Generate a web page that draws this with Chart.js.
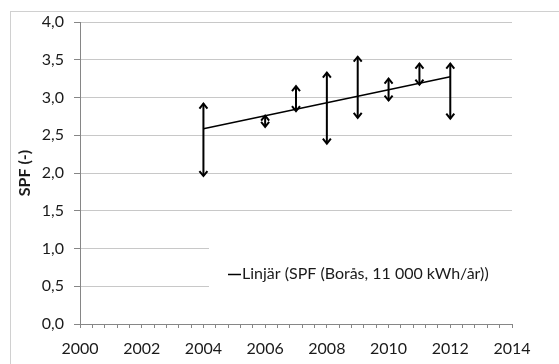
<!DOCTYPE html>
<html>
<head>
<meta charset="utf-8">
<script src="https://cdn.jsdelivr.net/npm/chart.js@4/dist/chart.umd.min.js"></script>
<style>
  html, body { margin: 0; padding: 0; background: #fff; }
  #wrap { width: 559px; height: 364px; }
</style>
</head>
<body>
<div id="wrap"><canvas id="c" width="559" height="364"></canvas></div>
<script>
// Measured SPF range per year (low / high end of each arrow)
const years = [2004, 2006, 2007, 2008, 2009, 2010, 2011, 2012];
const spfLow  = [1.96, 2.61, 2.82, 2.39, 2.73, 2.96, 3.17, 2.72];
const spfHigh = [2.92, 2.76, 3.15, 3.33, 3.54, 3.25, 3.45, 3.45];

// Linear trend line end points
const trendYears = [2004, 2012];
const trendValues = [2.587, 3.275];
const trendLabel = 'Linjär (SPF (Borås, 11 000 kWh/år))';

// Axis ticks
const xMin = 2000, xMax = 2014, xMinorStep = 0.4, xLabelStep = 2;
const yMin = 0, yMax = 4, yStep = 0.5;
const yTitle = 'SPF (-)';

const FONT = 'Lato, "Open Sans", sans-serif';
const TEXT = '#1a1a1a';
const AXIS = '#868686';
const GRID = '#c8c8c8';

// Arrow shafts: pairs of points separated by gaps
const arrowData = [];
years.forEach((yr, i) => {
  arrowData.push({ x: yr, y: spfLow[i] });
  arrowData.push({ x: yr, y: spfHigh[i] });
  arrowData.push({ x: yr, y: null });
});

const trendData = trendYears.map((yr, i) => ({ x: yr, y: trendValues[i] }));

// Outer frame of the chart object
const framePlugin = {
  id: 'frame',
  beforeDraw(chart) {
    const ctx = chart.ctx;
    ctx.save();
    ctx.fillStyle = '#fff';
    ctx.fillRect(0, 0, chart.width, chart.height);
    ctx.strokeStyle = '#d0d0d0';
    ctx.lineWidth = 1;
    ctx.strokeRect(10.5, 11.5, chart.width + 20, chart.height + 20);
    ctx.restore();
  }
};

// In-plot legend box for the trend line
const legendBoxPlugin = {
  id: 'legendBox',
  beforeDatasetsDraw(chart) {
    const ctx = chart.ctx;
    const ds = chart.data.datasets[1];
    const area = chart.chartArea;
    const x0 = 209, yTop = 222, yBot = 302;
    ctx.save();
    ctx.fillStyle = '#fff';
    ctx.fillRect(x0, yTop, area.right - x0 + 4, yBot - yTop);
    const cy = 274;
    const sx = 228;
    ctx.strokeStyle = '#000';
    ctx.lineWidth = 1.5;
    ctx.beginPath();
    ctx.moveTo(sx, cy + 0.5);
    ctx.lineTo(sx + 13, cy + 0.5);
    ctx.stroke();
    ctx.fillStyle = TEXT;
    ctx.font = '16px ' + FONT;
    ctx.textBaseline = 'middle';
    ctx.textAlign = 'left';
    ctx.fillText(ds.label, sx + 14, cy);
    ctx.restore();
  }
};

// Arrow heads at both ends of every shaft
const arrowHeadPlugin = {
  id: 'arrowHeads',
  afterDatasetsDraw(chart) {
    const meta = chart.getDatasetMeta(0);
    const pts = meta.data;
    const ctx = chart.ctx;
    ctx.save();
    ctx.strokeStyle = '#000';
    ctx.lineWidth = 2;
    ctx.lineJoin = 'miter';
    const hw = 4, hh = 5;
    for (let i = 0; i + 1 < pts.length; i += 3) {
      const lo = pts[i], hi = pts[i + 1];
      // bottom head (points down)
      ctx.beginPath();
      ctx.moveTo(lo.x - hw, lo.y - hh);
      ctx.lineTo(lo.x, lo.y);
      ctx.lineTo(lo.x + hw, lo.y - hh);
      ctx.stroke();
      // top head (points up)
      ctx.beginPath();
      ctx.moveTo(hi.x - hw, hi.y + hh);
      ctx.lineTo(hi.x, hi.y);
      ctx.lineTo(hi.x + hw, hi.y + hh);
      ctx.stroke();
    }
    ctx.restore();
  }
};

new Chart(document.getElementById('c'), {
  type: 'scatter',
  data: {
    datasets: [
      {
        label: 'SPF',
        data: arrowData,
        showLine: true,
        spanGaps: false,
        borderColor: '#000',
        borderWidth: 2,
        pointRadius: 0,
        pointHoverRadius: 0
      },
      {
        label: trendLabel,
        data: trendData,
        showLine: true,
        borderColor: '#000',
        borderWidth: 1.5,
        pointRadius: 0,
        pointHoverRadius: 0
      }
    ]
  },
  options: {
    responsive: false,
    devicePixelRatio: 1,
    animation: false,
    layout: { padding: { left: 0, top: 22, right: 47, bottom: 0 } },
    plugins: {
      legend: { display: false },
      tooltip: { enabled: false }
    },
    scales: {
      x: {
        type: 'linear',
        min: xMin,
        max: xMax,
        afterFit(scale) { scale.height = 40; },
        grid: {
          drawOnChartArea: false,
          drawTicks: true,
          tickLength: 4,
          tickColor: AXIS
        },
        border: { color: AXIS, width: 1 },
        ticks: {
          stepSize: xMinorStep,
          autoSkip: false,
          maxRotation: 0,
          padding: 11,
          color: TEXT,
          font: { family: FONT, size: 16 },
          callback(v) {
            const r = Math.round(v);
            return (Math.abs(v - r) < 1e-6 && (r - xMin) % xLabelStep === 0) ? String(r) : '';
          }
        }
      },
      y: {
        min: yMin,
        max: yMax,
        afterFit(scale) { scale.width = 80; },
        grid: {
          color: GRID,
          lineWidth: 1,
          drawTicks: true,
          tickLength: 6,
          tickColor: AXIS
        },
        border: { color: AXIS, width: 1 },
        ticks: {
          stepSize: yStep,
          padding: 10,
          color: TEXT,
          font: { family: FONT, size: 16 },
          callback(v) { return v.toFixed(1).replace('.', ','); }
        },
        title: {
          display: true,
          text: yTitle,
          color: TEXT,
          font: { family: FONT, size: 16, weight: 'bold' },
          padding: { top: 15, bottom: 0 }
        }
      }
    }
  },
  plugins: [framePlugin, legendBoxPlugin, arrowHeadPlugin]
});
</script>
</body>
</html>
